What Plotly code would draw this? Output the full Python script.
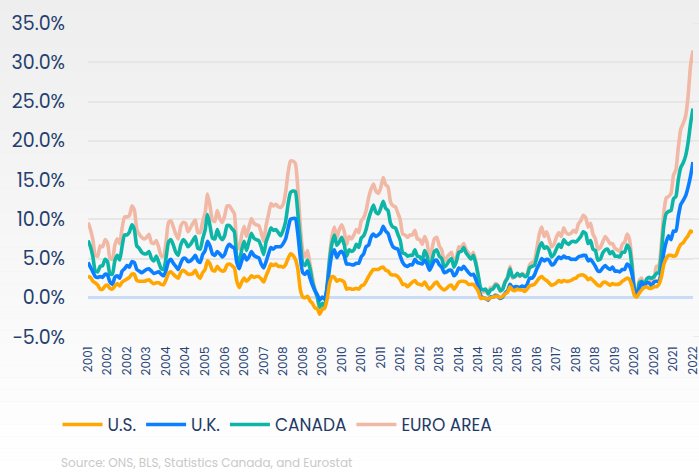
import numpy as np
import pandas as pd
import plotly.graph_objects as go

# Monthly year-over-year inflation (%), Aug 2001 .. Apr 2022
us = [2.7, 2.6, 2.1, 1.9, 1.6,
      1.1, 1.1, 1.5, 1.6, 1.2, 1.1, 1.5, 1.8, 1.5, 2.0, 2.2, 2.4,
      2.6, 3.0, 3.0, 2.2, 2.1, 2.1, 2.1, 2.2, 2.3, 2.0, 1.8, 1.9,
      1.9, 1.7, 1.7, 2.3, 3.1, 3.3, 3.0, 2.7, 2.5, 3.2, 3.5, 3.3,
      3.0, 3.0, 3.1, 3.5, 2.8, 2.5, 3.2, 3.6, 4.7, 4.3, 3.5, 3.4,
      4.0, 3.6, 3.4, 3.5, 4.2, 4.3, 4.1, 3.8, 2.1, 1.3, 2.0, 2.5,
      2.1, 2.4, 2.8, 2.6, 2.7, 2.7, 2.4, 2.0, 2.8, 3.5, 4.3, 4.1,
      4.3, 4.0, 4.0, 3.9, 4.2, 5.0, 5.6, 5.4, 4.9, 3.7, 1.1, 0.1,
      0.0, 0.2, -0.4, -0.7, -1.3, -1.4, -2.1, -1.5, -1.3, -0.2, 1.8, 2.7,
      2.6, 2.1, 2.3, 2.2, 2.0, 1.1, 1.2, 1.1, 1.1, 1.2, 1.1, 1.5,
      1.6, 2.1, 2.7, 3.2, 3.6, 3.6, 3.6, 3.8, 3.9, 3.5, 3.4, 3.0,
      2.9, 2.9, 2.7, 2.3, 1.7, 1.7, 1.4, 1.7, 2.0, 2.2, 1.8, 1.7,
      1.6, 2.0, 1.5, 1.1, 1.4, 1.8, 2.0, 1.5, 1.2, 1.0, 1.2, 1.5,
      1.6, 1.1, 1.5, 2.0, 2.1, 2.1, 2.0, 1.7, 1.7, 1.7, 1.3, 0.8,
      -0.1, 0.0, -0.1, -0.2, 0.0, 0.1, 0.2, 0.2, 0.0, 0.2, 0.5, 0.7,
      1.4, 1.0, 0.9, 1.1, 1.0, 1.0, 0.8, 1.1, 1.5, 1.6, 1.7, 2.1,
      2.5, 2.7, 2.4, 2.2, 1.9, 1.6, 1.7, 1.9, 2.2, 2.0, 2.2, 2.1,
      2.1, 2.2, 2.4, 2.5, 2.8, 2.9, 2.9, 2.7, 2.3, 2.5, 2.2, 1.9,
      1.6, 1.5, 1.9, 2.0, 1.8, 1.6, 1.8, 1.7, 1.7, 1.8, 2.1, 2.3,
      2.5, 2.3, 1.5, 0.3, 0.1, 0.6, 1.0, 1.3, 1.4, 1.2, 1.2, 1.4,
      1.4, 1.7, 2.6, 4.2, 5.0, 5.4, 5.4, 5.3, 5.4, 6.2, 6.8, 7.0,
      7.5, 7.9, 8.5, 8.3]

uk = [1.8, 1.3, 1.2, 0.8, 1.0,
      1.6, 1.5, 1.5, 1.3, 0.8, 0.6, 1.1, 1.0, 1.0, 1.4, 1.5, 1.7,
      1.3, 1.6, 1.5, 1.4, 1.3, 1.1, 1.3, 1.4, 1.4, 1.4, 1.3, 1.3,
      1.4, 1.3, 1.1, 1.2, 1.5, 1.6, 1.4, 1.3, 1.1, 1.2, 1.5, 1.7,
      1.6, 1.7, 1.9, 1.9, 1.9, 2.0, 2.3, 2.4, 2.5, 2.3, 2.1, 2.0,
      1.9, 2.0, 1.8, 2.0, 2.2, 2.5, 2.4, 2.5, 2.4, 2.4, 2.7, 3.0,
      2.7, 2.8, 3.1, 2.8, 2.5, 2.4, 1.9, 1.8, 1.8, 2.1, 2.1, 2.1,
      2.2, 2.5, 2.5, 3.0, 3.3, 3.8, 4.4, 4.7, 5.2, 4.5, 4.1, 3.1,
      3.0, 3.2, 2.9, 2.3, 2.2, 1.8, 1.8, 1.6, 1.1, 1.5, 1.9, 2.9,
      3.5, 3.0, 3.4, 3.7, 3.4, 3.2, 3.1, 3.1, 3.1, 3.2, 3.3, 3.7,
      4.0, 4.4, 4.0, 4.5, 4.5, 4.2, 4.4, 4.5, 5.2, 5.0, 4.8, 4.2,
      3.6, 3.4, 3.5, 3.0, 2.8, 2.4, 2.6, 2.5, 2.2, 2.7, 2.7, 2.7,
      2.7, 2.8, 2.8, 2.4, 2.7, 2.9, 2.8, 2.7, 2.7, 2.2, 2.1, 2.0,
      1.9, 1.7, 1.6, 1.8, 1.5, 1.9, 1.6, 1.5, 1.2, 1.3, 1.0, 0.5,
      0.3, 0.0, 0.0, -0.1, 0.1, 0.0, 0.1, 0.0, -0.1, -0.1, 0.1, 0.2,
      0.3, 0.3, 0.5, 0.3, 0.3, 0.5, 0.6, 0.6, 1.0, 0.9, 1.2, 1.6,
      1.8, 2.3, 2.3, 2.7, 2.9, 2.6, 2.6, 2.9, 3.0, 3.0, 3.1, 3.0,
      3.0, 2.7, 2.5, 2.4, 2.4, 2.4, 2.5, 2.7, 2.4, 2.4, 2.3, 2.1,
      1.8, 1.9, 1.9, 2.1, 2.0, 2.0, 2.1, 1.7, 1.7, 1.5, 1.5, 1.3,
      1.8, 1.7, 1.5, 0.8, 0.5, 0.6, 1.0, 0.2, 0.5, 0.7, 0.3, 0.6,
      0.7, 0.4, 0.7, 1.5, 2.1, 2.5, 2.0, 3.2, 3.1, 4.2, 5.1, 5.4,
      5.5, 6.2, 7.0, 9.0]

canada = [2.8, 2.6, 1.9, 0.7, 0.7,
          1.3, 1.5, 1.9, 1.7, 1.0, 1.3, 2.1, 2.6, 2.3, 3.2, 4.3, 3.9,
          4.5, 4.7, 4.2, 3.0, 2.9, 2.6, 2.2, 2.0, 2.2, 1.6, 1.6, 2.1,
          1.2, 0.7, 0.8, 1.6, 2.5, 2.5, 2.3, 1.8, 1.8, 2.3, 2.4, 2.1,
          1.9, 2.1, 2.3, 2.4, 1.6, 1.7, 2.0, 2.6, 3.4, 2.6, 2.0, 2.1,
          2.8, 2.2, 2.2, 2.4, 2.8, 2.4, 2.3, 2.1, 0.7, 0.9, 1.4, 1.7,
          1.2, 2.0, 2.3, 2.2, 2.2, 2.2, 2.2, 1.7, 2.5, 2.4, 2.5, 2.4,
          2.2, 1.8, 1.4, 1.7, 2.2, 3.1, 3.4, 3.5, 3.4, 2.6, 2.0, 1.2,
          1.1, 1.4, 1.2, 0.4, 0.1, -0.3, -0.9, -0.8, -0.9, 0.1, 1.0, 1.3,
          1.9, 1.6, 1.4, 1.8, 1.4, 1.0, 1.8, 1.7, 1.9, 2.4, 2.0, 2.4,
          2.3, 2.2, 3.3, 3.3, 3.7, 3.1, 2.7, 3.1, 3.2, 2.9, 2.9, 2.3,
          2.5, 2.6, 1.9, 2.0, 1.2, 1.5, 1.3, 1.2, 1.2, 1.2, 0.8, 0.8,
          0.5, 1.2, 1.0, 0.4, 0.7, 1.2, 1.3, 1.1, 1.1, 0.7, 0.9, 1.2,
          1.5, 1.1, 1.5, 2.0, 2.3, 2.4, 2.1, 2.1, 2.0, 2.4, 2.0, 1.5,
          1.0, 1.0, 1.2, 0.8, 0.9, 1.0, 1.3, 1.3, 1.0, 1.0, 1.4, 1.6,
          2.0, 1.4, 1.3, 1.7, 1.5, 1.5, 1.3, 1.1, 1.3, 1.5, 1.2, 1.5,
          2.1, 2.0, 1.6, 1.6, 1.3, 1.0, 1.2, 1.4, 1.6, 1.4, 2.1, 1.9,
          1.7, 2.2, 2.3, 2.2, 2.2, 2.5, 3.0, 2.8, 2.2, 2.4, 1.7, 2.0,
          1.4, 1.5, 1.9, 2.0, 2.4, 2.0, 2.0, 1.9, 1.9, 1.9, 2.2, 2.2,
          2.4, 2.2, 0.9, -0.2, -0.4, 0.7, 0.1, 0.1, 0.5, 0.7, 1.0, 0.7,
          1.0, 1.1, 2.2, 3.4, 3.6, 3.1, 3.7, 4.1, 4.4, 4.7, 4.7, 4.8,
          5.1, 5.7, 6.7, 6.8]

euro_area = [2.3, 2.2, 2.2, 2.0, 2.0,
             2.6, 2.4, 2.5, 2.4, 2.0, 1.9, 2.0, 2.1, 2.1, 2.3, 2.3, 2.3,
             2.1, 2.4, 2.5, 2.1, 1.8, 1.9, 1.9, 2.1, 2.2, 2.0, 2.2, 2.0,
             1.9, 1.6, 1.7, 2.0, 2.5, 2.4, 2.3, 2.3, 2.1, 2.4, 2.2, 2.4,
             1.9, 2.1, 2.2, 2.1, 2.0, 2.1, 2.2, 2.2, 2.6, 2.5, 2.3, 2.2,
             2.4, 2.3, 2.2, 2.5, 2.5, 2.5, 2.4, 2.3, 1.7, 1.6, 1.9, 1.9,
             1.8, 1.8, 1.9, 1.9, 1.9, 1.9, 1.8, 1.7, 2.1, 2.6, 3.1, 3.1,
             3.2, 3.3, 3.6, 3.3, 3.7, 4.0, 4.0, 3.8, 3.6, 3.2, 2.1, 1.6,
             1.1, 1.2, 0.6, 0.6, 0.0, -0.1, -0.6, -0.2, -0.3, -0.1, 0.5, 0.9,
             1.0, 0.9, 1.6, 1.6, 1.7, 1.5, 1.7, 1.6, 1.9, 1.9, 1.9, 2.2,
             2.3, 2.4, 2.7, 2.8, 2.7, 2.7, 2.6, 2.6, 3.0, 3.0, 3.0, 2.7,
             2.7, 2.7, 2.7, 2.6, 2.4, 2.4, 2.4, 2.6, 2.6, 2.5, 2.2, 2.2,
             2.0, 1.8, 1.7, 1.2, 1.4, 1.6, 1.6, 1.3, 1.1, 0.7, 0.9, 0.8,
             0.8, 0.7, 0.5, 0.7, 0.5, 0.5, 0.4, 0.4, 0.3, 0.4, 0.3, -0.2,
             -0.6, -0.3, -0.1, 0.0, 0.3, 0.2, 0.2, 0.1, -0.1, 0.1, 0.1, 0.2,
             0.3, -0.2, 0.0, -0.2, -0.1, 0.1, 0.2, 0.2, 0.4, 0.5, 0.6, 1.1,
             1.7, 2.0, 1.5, 1.9, 1.4, 1.3, 1.3, 1.5, 1.5, 1.4, 1.5, 1.3,
             1.3, 1.1, 1.4, 1.2, 2.0, 2.0, 2.1, 2.0, 2.1, 2.2, 1.9, 1.5,
             1.4, 1.5, 1.4, 1.7, 1.2, 1.3, 1.0, 1.0, 0.8, 0.7, 1.0, 1.3,
             1.4, 1.2, 0.7, 0.3, 0.1, 0.3, 0.4, -0.2, -0.3, -0.3, -0.3, -0.3,
             0.9, 0.9, 1.3, 1.6, 2.0, 1.9, 2.2, 3.0, 3.4, 4.1, 4.9, 5.0,
             5.1, 5.9, 7.4, 7.4]

series_names = ["U.S.", "U.K.", "CANADA", "EURO AREA"]
series_colors = ["#FFA600", "#0A7FFF", "#0DB5A6", "#F0B8A5"]
y_ticks = [-5, 0, 5, 10, 15, 20, 25, 30, 35]
source_text = "Source: ONS, BLS, Statistics Canada, and Eurostat"

months = pd.date_range("2001-08-01", periods=len(us), freq="MS")
idx = np.arange(len(months))
stacked = np.cumsum(np.array([us, uk, canada, euro_area]), axis=0)

tick_idx = idx[::8]
tick_txt = [str(months[i].year) for i in tick_idx]

W, H = 699, 472
ML, MR, MT, MB = 88, 6, 23, 135
PW, PH = W - ML - MR, H - MT - MB

fig = go.Figure()
for k in [3, 2, 1, 0]:
    fig.add_trace(go.Scatter(
        x=idx, y=stacked[k], name=series_names[k], mode="lines",
        line=dict(color=series_colors[k], width=3.6, shape="spline", smoothing=0.5),
        hoverinfo="skip", cliponaxis=False))

# background gradient bands
shapes = []
nb = 40
for i in range(nb):
    y0 = H - (i + 1) * H / nb
    y1 = H - i * H / nb
    t = (i + 0.5) / nb  # 0 at top
    v = int(round(255 - (255 - 238) * t))
    col = f"rgb({v},{v},{v})"
    shapes.append(dict(type="rect", xref="paper", yref="paper",
                       x0=-ML / PW - 0.01, x1=1 + MR / PW + 0.01,
                       y0=(H - MB - y1) / PH, y1=(H - MB - y0) / PH,
                       fillcolor=col, line=dict(width=0), layer="below"))
# extend gridlines to the right edge as in the reference
for v in y_ticks:
    if v == 0:
        continue
    shapes.append(dict(type="line", xref="paper", yref="y",
                       x0=1, x1=1 + MR / PW + 0.01, y0=v, y1=v,
                       line=dict(color="#e6e6e6", width=1.5), layer="below"))

fig.update_layout(
    width=W, height=H,
    margin=dict(l=ML, r=MR, t=MT, b=MB, autoexpand=False),
    paper_bgcolor="#eeeeee", plot_bgcolor="rgba(0,0,0,0)",
    shapes=shapes,
    font=dict(family="Poppins, Roboto, sans-serif", color="#243f6e"),
    showlegend=True,
    legend=dict(orientation="h", traceorder="reversed",
                x=-30.5 / PW, xanchor="left", y=-0.28, yanchor="middle",
                font=dict(size=17, color="#1f3a66"),
                itemwidth=40, bgcolor="rgba(0,0,0,0)"),
    xaxis=dict(range=[0, len(us) - 1], tickmode="array", tickvals=tick_idx,
               ticktext=tick_txt, tickangle=-90, showgrid=False, zeroline=False,
               showline=False, ticks="", tickfont=dict(size=12, color="#2a4677"),
               ticklabelstandoff=6, automargin=False, ticklabeloverflow="allow"),
    yaxis=dict(range=[-5, 35], tickmode="array", tickvals=y_ticks,
               ticktext=[f"{v:.1f}%".replace("-", "\u2212") for v in y_ticks],
               showgrid=True, gridcolor="#e6e6e6", gridwidth=1.5,
               zeroline=True, zerolinecolor="#c9dcf7", zerolinewidth=2.5,
               showline=False, ticks="", tickfont=dict(size=19, color="#243f6e"),
               ticklabelstandoff=22, automargin=False),
    annotations=[dict(text=source_text, xref="paper", yref="paper",
                      x=(59 - ML) / PW, y=-(462 - (H - MB)) / PH,
                      xanchor="left", yanchor="middle", showarrow=False,
                      font=dict(size=12, color="#c9c9c9"))],
)

fig.write_html("out.html", config={"displayModeBar": False},
               post_script="document.body.style.margin='0';document.body.style.overflow='hidden';")
